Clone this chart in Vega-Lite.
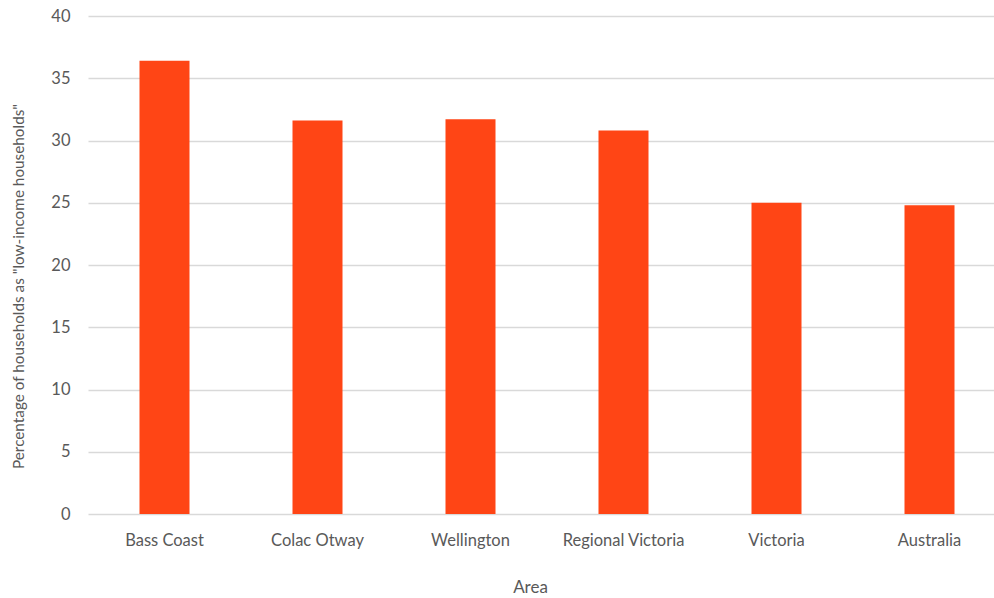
{
  "$schema": "https://vega.github.io/schema/vega-lite/v6.json",
  "autosize": {"type": "none"},
  "padding": {"left": 88, "top": 16, "right": 0, "bottom": 84},
  "width": 906,
  "height": 498,
  "background": "white",
  "data": {
    "values": [
      {"area": "Bass Coast", "pct": 36.4},
      {"area": "Colac Otway", "pct": 31.6},
      {"area": "Wellington", "pct": 31.7},
      {"area": "Regional Victoria", "pct": 30.8},
      {"area": "Victoria", "pct": 25.0},
      {"area": "Australia", "pct": 24.8}
    ]
  },
  "mark": {"type": "bar", "color": "#FF4515", "width": 50},
  "encoding": {
    "x": {
      "field": "area",
      "type": "nominal",
      "sort": null,
      "scale": {"range": [0, 918], "paddingInner": 0, "paddingOuter": 0},
      "axis": {
        "title": "Area",
        "titleX": 442,
        "titleY": 73,
        "titleBaseline": "middle",
        "titleFont": "Lato",
        "titleFontSize": 17,
        "titleFontWeight": "normal",
        "titleColor": "#595959",
        "labelAngle": 0,
        "labelFont": "Lato",
        "labelFontSize": 16.5,
        "labelColor": "#595959",
        "labelPadding": 26,
        "labelBaseline": "middle",
        "domain": false,
        "ticks": false
      }
    },
    "y": {
      "field": "pct",
      "type": "quantitative",
      "scale": {"domain": [0, 40]},
      "axis": {
        "title": "Percentage of households as \"low-income households\"",
        "titleX": -70,
        "titleY": 270,
        "titleAngle": -90,
        "titleBaseline": "middle",
        "titleAlign": "center",
        "titleFont": "Lato",
        "titleFontSize": 15.3,
        "titleFontWeight": "normal",
        "titleColor": "#595959",
        "values": [0, 5, 10, 15, 20, 25, 30, 35, 40],
        "labelFont": "Lato",
        "labelFontSize": 16.5,
        "labelColor": "#595959",
        "labelPadding": 18,
        "domain": false,
        "ticks": false,
        "grid": true,
        "gridColor": "#D9D9D9",
        "gridWidth": 1.3
      }
    }
  },
  "config": {"view": {"stroke": null}}
}
